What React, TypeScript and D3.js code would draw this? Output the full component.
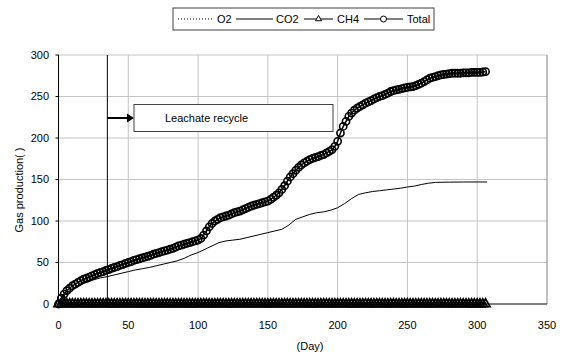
import React from "react";
import * as d3 from "d3";

// ---- data ----
const totalDays = [
  0, 2, 4, 6, 8, 10, 12, 14, 16, 18, 20, 22, 24, 26, 28, 30, 32, 34, 36, 38,
  40, 42, 44, 46, 48, 50, 52, 54, 56, 58, 60, 62, 64, 66, 68, 70, 72, 74, 76, 78,
  80, 82, 84, 86, 88, 90, 92, 94, 96, 98, 100, 102, 104, 106, 108, 110, 112, 114, 116, 118,
  120, 122, 124, 126, 128, 130, 132, 134, 136, 138, 140, 142, 144, 146, 148, 150, 152, 154, 156, 158,
  160, 162, 164, 166, 168, 170, 172, 174, 176, 178, 180, 182, 184, 186, 188, 190, 192, 194, 196, 198,
  200, 202, 204, 206, 208, 210, 212, 214, 216, 218, 220, 222, 224, 226, 228, 230, 232, 234, 236, 238,
  240, 242, 244, 246, 248, 250, 252, 254, 256, 258, 260, 262, 264, 266, 268, 270, 272, 274, 276, 278,
  280, 282, 284, 286, 288, 290, 292, 294, 296, 298, 300, 302, 304, 306,
];
const totalValues = [
  0, 7, 12, 16, 19, 22, 24, 26, 28, 30, 31, 32.5, 34, 35.5, 37, 38, 39, 40.5, 41.5, 43,
  44, 45, 46.5, 47.5, 49, 50, 51, 52.5, 53.5, 54.5, 55.5, 56.5, 57.5, 58.5, 60, 61, 62, 63, 64, 65,
  66, 67, 68.5, 70, 71, 72, 73, 74, 75, 76, 77, 79, 83, 88, 93, 97, 100, 102, 104, 105,
  106, 107, 108.5, 110, 111, 112, 113.5, 115, 116.5, 118, 119, 120, 121, 122, 123, 124, 126, 128.5, 131, 134,
  138, 142.5, 148, 153, 157, 161, 164.5, 167.5, 170, 172, 174, 175.5, 176.5, 177.5, 179, 180, 182, 184, 186, 190,
  196, 206, 214, 220, 226, 230, 233.5, 236, 238, 240, 242, 243.5, 245, 247, 248.5, 250, 251, 252.5, 254, 256,
  257, 258, 258.5, 259.5, 260.5, 261, 261.5, 262, 263, 264.5, 266, 268, 270, 272, 273, 274, 275, 276, 276.5, 277,
  277.5, 278, 278, 278, 278, 278.5, 278.5, 278.5, 279, 279, 279, 279, 279.5, 280,
];
const ch4Values = [
  0, 0, 0, 0, 0, 0, 0, 0, 0, 0, 0, 0, 0, 0, 0, 0, 0, 0, 0, 0,
  0, 0, 0, 0, 0, 0, 0, 0, 0, 0, 0, 0, 0, 0, 0, 0, 0, 0, 0, 0,
  0, 0, 0, 0, 0, 0, 0, 0, 0, 0, 0, 0, 0, 0, 0, 0, 0, 0, 0, 0,
  0, 0, 0, 0, 0, 0, 0, 0, 0, 0, 0, 0, 0, 0, 0, 0, 0, 0, 0, 0,
  0, 0, 0, 0, 0, 0, 0, 0, 0, 0, 0, 0, 0, 0, 0, 0, 0, 0, 0, 0,
  0, 0, 0, 0, 0, 0, 0, 0, 0, 0, 0, 0, 0, 0, 0, 0, 0, 0, 0, 0,
  0, 0, 0, 0, 0, 0, 0, 0, 0, 0, 0, 0, 0, 0, 0, 0, 0, 0, 0, 0,
  0, 0, 0, 0, 0, 0, 0, 0, 0, 0, 0, 0, 0, 0,
];
const o2Days = [0, 306];
const o2Values = [0, 0];
const co2Days = [
  0, 5, 10, 15, 20, 25, 30, 35, 40, 45, 50, 55, 60, 65, 70, 75, 80, 85, 90, 95,
  100, 105, 110, 115, 120, 125, 130, 135, 140, 145, 150, 155, 160, 165, 170, 175, 180, 185, 190, 195,
  200, 205, 210, 215, 220, 225, 230, 235, 240, 245, 250, 255, 260, 265, 270, 280, 290, 300, 307,
];
const co2Values = [
  0, 12, 18, 23, 26, 29, 31.5, 33, 35, 37, 39, 41, 42.5, 44, 46, 48, 50, 52, 55, 59,
  62, 66, 70, 74, 76, 77, 78, 80, 82, 84, 86, 88, 90, 95, 102, 105, 108, 110, 111, 113,
  116, 121, 127, 132, 134, 135.5, 136.5, 137.5, 138.5, 139.5, 141, 142, 144, 145.5, 146.5, 146.8, 147, 147, 147,
];
const xTicks = [0, 50, 100, 150, 200, 250, 300, 350];
const yTicks = [0, 50, 100, 150, 200, 250, 300];
const recycleDay = 35;
const seriesNames = ["O2", "CO2", "CH4", "Total"];

const W = 569;
const H = 358;
const FONT = "'Liberation Sans', Arial, sans-serif";

export default function App() {
  const x = d3.scaleLinear().domain([0, 350]).range([58.5, 547]);
  const y = d3.scaleLinear().domain([0, 300]).range([304, 55]);
  const line = d3
    .line<[number, number]>()
    .x((d) => x(d[0]))
    .y((d) => y(d[1]));
  const totalPts: [number, number][] = totalDays.map((d, i) => [d, totalValues[i]]);
  const ch4Pts: [number, number][] = totalDays.map((d, i) => [d, ch4Values[i]]);
  const co2Pts: [number, number][] = co2Days.map((d, i) => [d, co2Values[i]]);
  const o2Pts: [number, number][] = o2Days.map((d, i) => [d, o2Values[i]]);
  const tri = d3.symbol(d3.symbolTriangle, 34)() as string;
  const triLegend = d3.symbol(d3.symbolTriangle, 16)() as string;

  const x0 = x(0);
  const x1 = x(350);
  const yTop = y(300);
  const yBot = y(0);

  return (
    <svg
      width={W}
      height={H}
      style={{ position: "absolute", left: 0, top: 0, background: "#fff" }}
      fontFamily={FONT}
    >
      <rect x={0} y={0} width={W} height={H} fill="#fff" />
      {/* gridlines */}
      {yTicks.filter((t) => t > 0).map((t) => (
        <line key={"gy" + t} x1={x0} x2={x1} y1={y(t)} y2={y(t)} stroke="#c4c4c4" strokeWidth={1} />
      ))}
      {xTicks.filter((t) => t > 0 && t < 350).map((t) => (
        <line key={"gx" + t} x1={x(t)} x2={x(t)} y1={yTop} y2={yBot} stroke="#c4c4c4" strokeWidth={1} />
      ))}
      {/* right border */}
      <line x1={x1} x2={x1} y1={yTop} y2={yBot} stroke="#808080" strokeWidth={1} />
      {/* axes */}
      <line x1={x0} x2={x0} y1={yTop} y2={yBot} stroke="#000" strokeWidth={1} />
      <line x1={x0} x2={x1} y1={yBot} y2={yBot} stroke="#000" strokeWidth={1} />
      {yTicks.map((t) => (
        <line key={"ty" + t} x1={x0 - 3} x2={x0} y1={y(t)} y2={y(t)} stroke="#000" />
      ))}
      {yTicks.map((t) => (
        <text key={"ly" + t} x={49} y={y(t)} dy="0.35em" textAnchor="end" fontSize={11}>
          {t}
        </text>
      ))}
      {xTicks.map((t) => (
        <text key={"lx" + t} x={x(t)} y={329} textAnchor="middle" fontSize={11}>
          {t}
        </text>
      ))}
      <text x={310} y={350} textAnchor="middle" fontSize={11}>(Day)</text>
      <text
        transform={`translate(23,${190}) rotate(-90)`}
        textAnchor="middle"
        fontSize={11}
      >
        Gas production( )
      </text>

      {/* leachate recycle marker */}
      <line x1={x(recycleDay)} x2={x(recycleDay)} y1={yTop} y2={yBot} stroke="#000" strokeWidth={1} />
      <line x1={x(recycleDay)} x2={128} y1={118} y2={118} stroke="#000" strokeWidth={2} />
      <path d="M127,113.5 L134,118 L127,122.5 Z" fill="#000" />
      <rect x={134} y={104.5} width={199} height={27} fill="#fff" stroke="#404040" strokeWidth={1} />
      <text x={165} y={122} fontSize={11}>Leachate recycle</text>

      {/* series */}
      <path d={line(co2Pts) || ""} fill="none" stroke="#000" strokeWidth={1} />
      <path d={line(totalPts) || ""} fill="none" stroke="#000" strokeWidth={1.5} />
      {totalPts.map((p, i) => (
        <circle key={"c" + i} cx={x(p[0])} cy={y(p[1])} r={3.6} fill="none" stroke="#000" strokeWidth={1.6} />
      ))}
      <path d={line(ch4Pts) || ""} fill="none" stroke="#000" strokeWidth={1} />
      {ch4Pts.map((p, i) => (
        <path key={"t" + i} d={tri} transform={`translate(${x(p[0])},${y(p[1])})`} fill="none" stroke="#000" strokeWidth={1.8} />
      ))}
      <path d={line(o2Pts) || ""} fill="none" stroke="#000" strokeWidth={1} strokeDasharray="1,2" />

      {/* legend */}
      <rect x={173} y={8} width={261} height={22} fill="#fff" stroke="#404040" strokeWidth={1} />
      <line x1={178} x2={212} y1={19} y2={19} stroke="#000" strokeWidth={1} strokeDasharray="1,2" />
      <text x={217} y={23} fontSize={11}>{seriesNames[0]}</text>
      <line x1={236} x2={273} y1={19} y2={19} stroke="#000" strokeWidth={1} />
      <text x={276} y={23} fontSize={11}>{seriesNames[1]}</text>
      <line x1={304} x2={333} y1={19} y2={19} stroke="#000" strokeWidth={1} />
      <path d={triLegend} transform="translate(318.5,19)" fill="#fff" stroke="#000" strokeWidth={1} />
      <text x={337} y={23} fontSize={11}>{seriesNames[2]}</text>
      <line x1={364} x2={403} y1={19} y2={19} stroke="#000" strokeWidth={1} />
      <circle cx={383.5} cy={19} r={3} fill="#fff" stroke="#000" strokeWidth={1} />
      <text x={407} y={23} fontSize={11}>{seriesNames[3]}</text>
    </svg>
  );
}
